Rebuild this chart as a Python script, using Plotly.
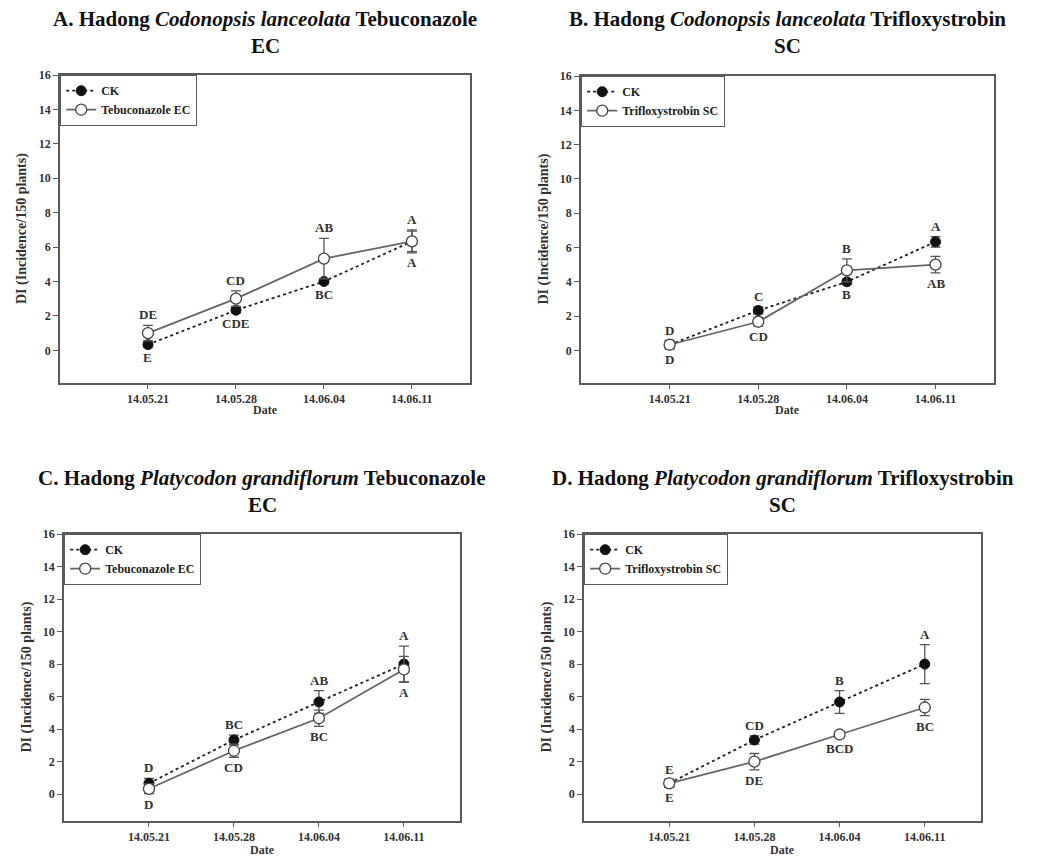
import plotly.graph_objects as go

dates = ["14.05.21", "14.05.28", "14.06.04", "14.06.11"]

# Panel A: Codonopsis lanceolata, Tebuconazole EC
ck_A = [0.33, 2.33, 4.0, 6.33]
ck_A_err = [0.15, 0.15, 0.15, 0.6]
trt_A = [1.0, 3.0, 5.33, 6.33]
trt_A_err = [0.45, 0.45, 1.17, 0.67]
ck_A_lab = ["E", "CDE", "BC", "A"]
trt_A_lab = ["DE", "CD", "AB", "A"]

# Panel B: Codonopsis lanceolata, Trifloxystrobin SC
ck_B = [0.33, 2.33, 4.0, 6.33]
ck_B_err = [0.2, 0.2, 0.15, 0.3]
trt_B = [0.33, 1.67, 4.67, 5.0]
trt_B_err = [0.25, 0.25, 0.67, 0.48]
ck_B_lab = ["D", "C", "B", "A"]
trt_B_lab = ["D", "CD", "B", "AB"]

# Panel C: Platycodon grandiflorum, Tebuconazole EC
ck_C = [0.67, 3.33, 5.67, 8.0]
ck_C_err = [0.3, 0.3, 0.7, 1.1]
trt_C = [0.33, 2.67, 4.67, 7.67]
trt_C_err = [0.3, 0.4, 0.5, 0.8]
ck_C_lab = ["D", "BC", "AB", "A"]
trt_C_lab = ["D", "CD", "BC", "A"]

# Panel D: Platycodon grandiflorum, Trifloxystrobin SC
ck_D = [0.67, 3.33, 5.67, 8.0]
ck_D_err = [0.2, 0.25, 0.7, 1.2]
trt_D = [0.67, 2.0, 3.67, 5.33]
trt_D_err = [0.25, 0.5, 0.2, 0.5]
ck_D_lab = ["E", "CD", "B", "A"]
trt_D_lab = ["E", "DE", "BCD", "BC"]

# label side: +1 above, -1 below
ck_A_side = [-1, -1, -1, -1]
trt_A_side = [1, 1, 1, 1]
ck_B_side = [1, 1, -1, 1]
trt_B_side = [-1, -1, 1, -1]
ck_C_side = [1, 1, 1, 1]
trt_C_side = [-1, -1, -1, -1]
ck_D_side = [1, 1, 1, 1]
trt_D_side = [-1, -1, -1, -1]

titles = [
    ("A. Hadong <i>Codonopsis lanceolata</i> Tebuconazole", "EC"),
    ("B. Hadong <i>Codonopsis lanceolata</i> Trifloxystrobin", "SC"),
    ("C. Hadong <i>Platycodon grandiflorum</i> Tebuconazole", "EC"),
    ("D. Hadong <i>Platycodon grandiflorum</i> Trifloxystrobin", "SC"),
]
trt_names = ["Tebuconazole EC", "Trifloxystrobin SC", "Tebuconazole EC", "Trifloxystrobin SC"]

panels = [
    (ck_A, ck_A_err, trt_A, trt_A_err, ck_A_lab, trt_A_lab, ck_A_side, trt_A_side),
    (ck_B, ck_B_err, trt_B, trt_B_err, ck_B_lab, trt_B_lab, ck_B_side, trt_B_side),
    (ck_C, ck_C_err, trt_C, trt_C_err, ck_C_lab, trt_C_lab, ck_C_side, trt_C_side),
    (ck_D, ck_D_err, trt_D, trt_D_err, ck_D_lab, trt_D_lab, ck_D_side, trt_D_side),
]

W, H = 1063, 858
# plot boxes in page pixels: (left, right, top, bottom)
boxes = [(60, 470, 75, 383), (581, 994, 76, 383), (64, 460, 534, 821), (584, 981, 534, 821)]
y_lo = [-1.9, -1.9, -1.65, -1.65]
title_y = [(19, 46), (19, 46), (478, 505), (478, 505)]
date_y = [410, 410, 850, 850]


def px(xp):
    return xp / W


def py(yp):
    return 1 - yp / H


FONT = "Liberation Serif"
AX = "#5a5a5a"

fig = go.Figure()
layout = {}
annos = []
x_idx = [0, 1, 2, 3]

for i, (box, pdata) in enumerate(zip(boxes, panels)):
    ck, ckerr, trt, trterr, cklab, trtlab, ckside, trtside = pdata
    n = "" if i == 0 else str(i + 1)
    xa, ya = "x" + n, "y" + n
    lg = "legend" + n
    l, r, t, b = box
    layout["xaxis" + n] = dict(
        domain=[px(l), px(r)], anchor=ya, range=[-1, 3.66],
        tickvals=x_idx, ticktext=dates, showline=True, linecolor=AX, linewidth=1.6,
        mirror=True, ticks="outside", ticklen=4, tickcolor=AX, tickwidth=1.2,
        showgrid=False, zeroline=False, automargin=False,
        tickfont=dict(family=FONT, size=12, color="#333", weight="bold"),
    )
    layout["yaxis" + n] = dict(
        domain=[py(b), py(t)], anchor=xa, range=[y_lo[i], 16],
        tickvals=list(range(0, 17, 2)), showline=True, linecolor=AX, linewidth=1.6,
        mirror=True, ticks="outside", ticklen=5, tickcolor=AX, tickwidth=1.2,
        showgrid=False, zeroline=False, automargin=False,
        tickfont=dict(family=FONT, size=12, color="#333", weight="bold"),
    )
    layout[lg] = dict(
        x=px(l), y=py(t), xanchor="left", yanchor="top",
        bordercolor=AX, borderwidth=1.2, bgcolor="white",
        font=dict(family=FONT, size=12, color="#222", weight="bold"),
        tracegroupgap=0, itemwidth=30,
    )
    fig.add_trace(go.Scatter(
        x=x_idx, y=ck, name="CK", mode="lines+markers", xaxis=xa, yaxis=ya, legend=lg,
        line=dict(color="#222", width=1.8, dash="dot"),
        marker=dict(symbol="circle", size=10, color="#111", line=dict(color="#111", width=1)),
        error_y=dict(type="data", array=ckerr, color="#555", thickness=1.3, width=5),
    ))
    fig.add_trace(go.Scatter(
        x=x_idx, y=trt, name=trt_names[i], mode="lines+markers", xaxis=xa, yaxis=ya, legend=lg,
        line=dict(color="#666", width=1.8),
        marker=dict(symbol="circle", size=11, color="white", line=dict(color="#444", width=1.3)),
        error_y=dict(type="data", array=trterr, color="#555", thickness=1.3, width=5),
    ))
    for vals, errs, labs, sides in ((ck, ckerr, cklab, ckside), (trt, trterr, trtlab, trtside)):
        for xi, v, e, lab, s in zip(x_idx, vals, errs, labs, sides):
            annos.append(dict(
                x=xi, y=v + s * e, xref=xa, yref=ya, text="<b>" + lab + "</b>", showarrow=False,
                xanchor="center", yanchor="bottom" if s > 0 else "top", yshift=1 if s > 0 else -1,
                font=dict(family=FONT, size=13, color="#333"),
            ))
    cx = px((l + r) / 2)
    annos.append(dict(x=cx, y=py(title_y[i][0]), xref="paper", yref="paper",
                      xanchor="center", yanchor="middle",
                      text="<b>" + titles[i][0] + "</b>", showarrow=False,
                      font=dict(family=FONT, size=21, color="#111")))
    annos.append(dict(x=cx, y=py(title_y[i][1]), xref="paper", yref="paper",
                      xanchor="center", yanchor="middle",
                      text="<b>" + titles[i][1] + "</b>", showarrow=False,
                      font=dict(family=FONT, size=21, color="#111")))
    annos.append(dict(x=px(l - 38), y=py((t + b) / 2), xref="paper", yref="paper",
                      xanchor="center", yanchor="middle",
                      text="<b>DI (Incidence/150 plants)</b>", showarrow=False, textangle=-90,
                      font=dict(family=FONT, size=14, color="#333")))
    annos.append(dict(x=cx, y=py(date_y[i]), xref="paper", yref="paper",
                      xanchor="center", yanchor="middle",
                      text="<b>Date</b>", showarrow=False,
                      font=dict(family=FONT, size=12, color="#333")))

fig.update_layout(
    width=W, height=H, margin=dict(l=0, r=0, t=0, b=0, autoexpand=False),
    plot_bgcolor="white", paper_bgcolor="white",
    annotations=annos, **layout,
)
fig.write_html("out.html", config={"displayModeBar": False},
               post_script="document.body.style.margin='0px';")
